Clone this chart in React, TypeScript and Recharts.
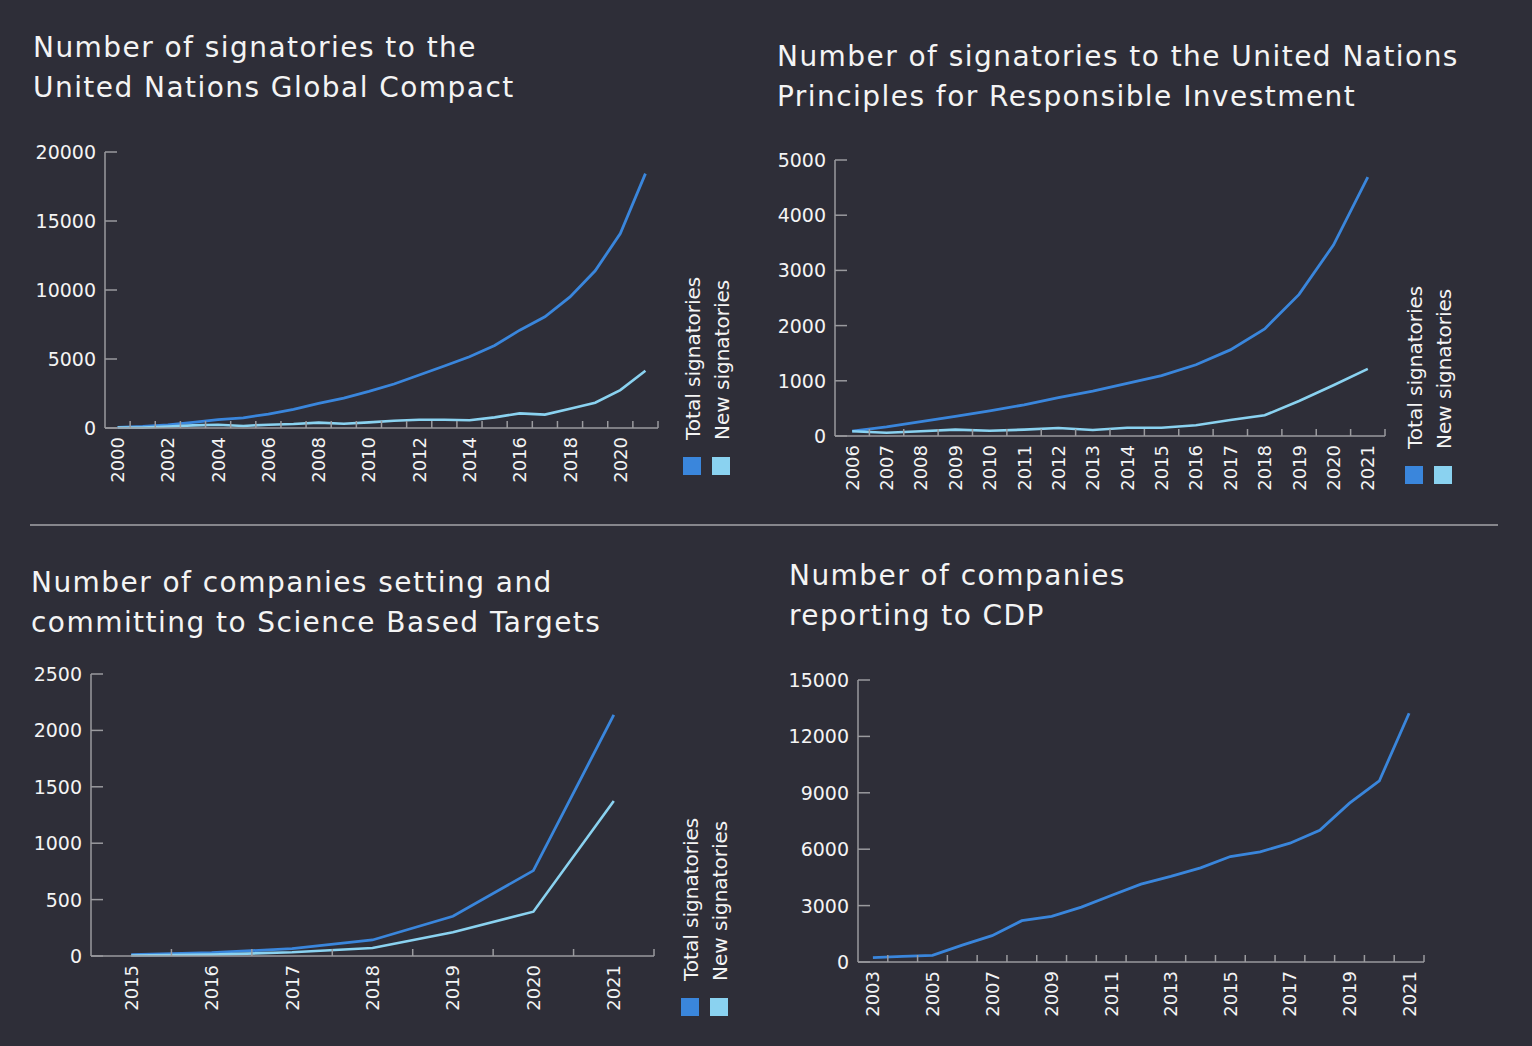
import { LineChart, Line, XAxis, YAxis } from 'recharts'

const BG = '#2e2e38'
const BLUE = '#3a86dc'
const LIGHT = '#8ad2f0'
const AXIS = '#9a9a9e'
const INK = '#f4f4f4'
const FONT = '"DejaVu Sans", Verdana, sans-serif'

// UN Global Compact
const ungcYears = [2000, 2001, 2002, 2003, 2004, 2005, 2006, 2007, 2008, 2009, 2010, 2011, 2012, 2013, 2014, 2015, 2016, 2017, 2018, 2019, 2020, 2021]
const ungcLabelYears = [2000, 2002, 2004, 2006, 2008, 2010, 2012, 2014, 2016, 2018, 2020]
const ungcTotal = [50, 110, 220, 400, 600, 740, 1010, 1350, 1790, 2170, 2650, 3190, 3840, 4490, 5160, 5980, 7090, 8060, 9500, 11390, 14090, 18430]
const ungcNew = [40, 30, 110, 190, 240, 150, 240, 290, 390, 310, 410, 530, 600, 600, 560, 770, 1060, 970, 1400, 1830, 2750, 4150]
const ungcYTicks = [0, 5000, 10000, 15000, 20000]

// UN PRI
const priYears = [2006, 2007, 2008, 2009, 2010, 2011, 2012, 2013, 2014, 2015, 2016, 2017, 2018, 2019, 2020, 2021]
const priTotal = [90, 165, 260, 355, 455, 565, 695, 815, 955, 1095, 1290, 1560, 1940, 2565, 3460, 4690]
const priNew = [85, 60, 85, 115, 95, 115, 145, 110, 150, 150, 195, 290, 375, 635, 920, 1215]
const priYTicks = [0, 1000, 2000, 3000, 4000, 5000]

// Science Based Targets
const sbtYears = [2015, 2016, 2017, 2018, 2019, 2020, 2021]
const sbtTotal = [12, 30, 65, 142, 352, 757, 2137]
const sbtNew = [5, 12, 33, 71, 210, 393, 1374]
const sbtYTicks = [0, 500, 1000, 1500, 2000, 2500]

// CDP
const cdpYears = [2003, 2004, 2005, 2006, 2007, 2008, 2009, 2010, 2011, 2012, 2013, 2014, 2015, 2016, 2017, 2018, 2019, 2020, 2021]
const cdpLabelYears = [2003, 2005, 2007, 2009, 2011, 2013, 2015, 2017, 2019, 2021]
const cdpTotal = [230, 300, 355, 900, 1400, 2200, 2430, 2920, 3540, 4140, 4550, 5010, 5610, 5860, 6320, 7010, 8450, 9630, 13230]
const cdpYTicks = [0, 3000, 6000, 9000, 12000, 15000]

const legendLabels = ['Total signatories', 'New signatories']

// eslint-disable-next-line @typescript-eslint/no-explicit-any
function XTick(props: any) {
  const { x, y, payload } = props
  const v = payload.value
  if (!Number.isInteger(v)) {
    return <line x1={x} x2={x} y1={y} y2={y - 7} stroke={AXIS} strokeWidth={1.5} />
  }
  return (
    <text
      x={x}
      y={y + 9}
      transform={`rotate(-90 ${x} ${y + 9})`}
      textAnchor="end"
      dominantBaseline="central"
      fill={INK}
      fontSize={18}
      fontFamily={FONT}
    >
      {v}
    </text>
  )
}

// eslint-disable-next-line @typescript-eslint/no-explicit-any
function YTick(props: any) {
  const { x, y, payload } = props
  return (
    <g>
      <line x1={x} x2={x + 12} y1={y} y2={y} stroke={AXIS} strokeWidth={1.5} />
      <text x={x - 9} y={y} textAnchor="end" dominantBaseline="central" fill={INK} fontSize={19} fontFamily={FONT}>
        {payload.value}
      </text>
    </g>
  )
}

interface ChartProps {
  left: number
  top: number
  plotW: number
  plotH: number
  years: number[]
  labelYears: number[]
  total: number[]
  fresh?: number[]
  yTicks: number[]
}

const YW = 80
const XH = 70
const MT = 12
const MR = 10

function YearChart({ left, top, plotW, plotH, years, labelYears, total, fresh, yTicks }: ChartProps) {
  const data = years.map((year, i) => ({ year, total: total[i], fresh: fresh ? fresh[i] : undefined }))
  // labelled years plus a tick mark half way between every two years
  const xTicks = [...labelYears, ...years.map((y) => y + 0.5)].sort((a, b) => a - b)
  return (
    <div style={{ position: 'absolute', left: left - YW, top: top - MT }}>
      <LineChart width={YW + plotW + MR} height={MT + plotH + XH} data={data} margin={{ top: MT, right: MR, bottom: 0, left: 0 }}>
        <XAxis
          dataKey="year"
          type="number"
          domain={[years[0] - 0.5, years[years.length - 1] + 0.5]}
          ticks={xTicks}
          interval={0}
          tick={(p: any) => <XTick {...p} />}
          tickLine={false}
          tickSize={0}
          tickMargin={0}
          height={XH}
          axisLine={{ stroke: AXIS, strokeWidth: 1.5 }}
          allowDataOverflow
        />
        <YAxis
          type="number"
          domain={[0, yTicks[yTicks.length - 1]]}
          ticks={yTicks}
          interval={0}
          tick={(p: any) => <YTick {...p} />}
          tickLine={false}
          tickSize={0}
          tickMargin={0}
          width={YW}
          axisLine={{ stroke: AXIS, strokeWidth: 1.5 }}
        />
        <Line type="linear" dataKey="total" stroke={BLUE} strokeWidth={2.8} dot={false} isAnimationActive={false} />
        {fresh && <Line type="linear" dataKey="fresh" stroke={LIGHT} strokeWidth={2.6} dot={false} isAnimationActive={false} />}
      </LineChart>
    </div>
  )
}

function RotatedLegend({ left, top }: { left: number; top: number }) {
  // left/top = top-left corner of the first square
  const colors = [BLUE, LIGHT]
  return (
    <svg style={{ position: 'absolute', left: left - 4, top: top - 200 }} width={60} height={222}>
      {legendLabels.map((label, i) => {
        const cx = 4 + i * 29 + 10
        return (
          <g key={label}>
            <text
              x={cx}
              y={183}
              transform={`rotate(-90 ${cx} ${183})`}
              dominantBaseline="central"
              fill={INK}
              fontSize={20}
              fontFamily={FONT}
            >
              {label}
            </text>
            <rect x={4 + i * 29} y={200} width={18} height={18} fill={colors[i]} />
          </g>
        )
      })}
    </svg>
  )
}

const titleStyle = {
  position: 'absolute' as const,
  color: INK,
  fontFamily: FONT,
  fontSize: 28,
  lineHeight: '40px',
  letterSpacing: 1.45,
  whiteSpace: 'nowrap' as const,
}

export default function App() {
  return (
    <div style={{ position: 'absolute', left: 0, top: 0, width: 1532, height: 1046, background: BG, overflow: 'hidden' }}>
      <div style={{ ...titleStyle, left: 33, top: 28 }}>
        Number of signatories to the
        <br />
        United Nations Global Compact
      </div>
      <div style={{ ...titleStyle, left: 777, top: 37 }}>
        Number of signatories to the United Nations
        <br />
        Principles for Responsible Investment
      </div>
      <div style={{ ...titleStyle, left: 31, top: 563 }}>
        Number of companies setting and
        <br />
        committing to Science Based Targets
      </div>
      <div style={{ ...titleStyle, left: 789, top: 556 }}>
        Number of companies
        <br />
        reporting to CDP
      </div>

      <div style={{ position: 'absolute', left: 30, top: 524, width: 1468, height: 2, background: '#86868c' }} />

      <YearChart left={105} top={152} plotW={553} plotH={276} years={ungcYears} labelYears={ungcLabelYears} total={ungcTotal} fresh={ungcNew} yTicks={ungcYTicks} />
      <RotatedLegend left={683} top={457} />

      <YearChart left={835} top={160} plotW={550} plotH={276} years={priYears} labelYears={priYears} total={priTotal} fresh={priNew} yTicks={priYTicks} />
      <RotatedLegend left={1405} top={466} />

      <YearChart left={91} top={674} plotW={563} plotH={282} years={sbtYears} labelYears={sbtYears} total={sbtTotal} fresh={sbtNew} yTicks={sbtYTicks} />
      <RotatedLegend left={681} top={998} />

      <YearChart left={858} top={680} plotW={566} plotH={282} years={cdpYears} labelYears={cdpLabelYears} total={cdpTotal} yTicks={cdpYTicks} />
    </div>
  )
}
